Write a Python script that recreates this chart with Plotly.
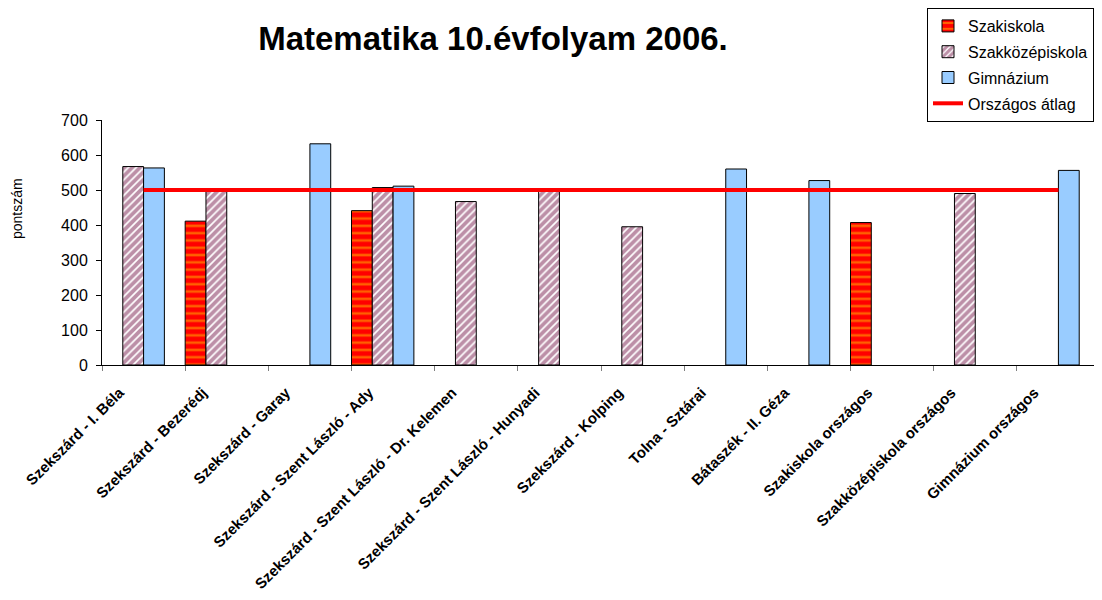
import plotly.graph_objects as go

categories = [
    "Szekszárd - I. Béla",
    "Szekszárd - Bezerédj",
    "Szekszárd - Garay",
    "Szekszárd - Szent László - Ady",
    "Szekszárd - Szent László - Dr. Kelemen",
    "Szekszárd - Szent László - Hunyadi",
    "Szekszárd - Kolping",
    "Tolna - Sztárai",
    "Bátaszék - II. Géza",
    "Szakiskola országos",
    "Szakközépiskola országos",
    "Gimnázium országos",
]
szakiskola = [None, 411, None, 441, None, None, None, None, None, 407, None, None]
szakkozep = [567, 496, None, 507, 467, 497, 395, None, None, None, 490, None]
gimnazium = [563, None, 632, 511, None, None, None, 560, 527, None, None, 556]
orszagos = [500] * len(categories)

FONT = "Liberation Sans, Arial, sans-serif"
W, H = 1094, 592  # page body has an 8px margin

fig = go.Figure()
fig.add_trace(go.Bar(
    x=categories, y=szakiskola, name="Szakiskola",
    width=0.25, offset=-0.5,
    marker=dict(color="#FF0000", line=dict(color="black", width=1),
                pattern=dict(shape="-", fgcolor="#FFC000", bgcolor="#FF0000",
                             size=7.3, solidity=0.35, fillmode="overlay")),
    legendgroup="a",
))
fig.add_trace(go.Bar(
    x=categories, y=szakkozep, name="Szakközépiskola",
    width=0.25, offset=-0.25,
    marker=dict(color="white", line=dict(color="black", width=1),
                pattern=dict(shape="/", fgcolor="#7A1F50", bgcolor="white",
                             size=5.5, solidity=0.7, fillmode="overlay")),
    legendgroup="b",
))
fig.add_trace(go.Bar(
    x=categories, y=gimnazium, name="Gimnázium",
    width=0.25, offset=0,
    marker=dict(color="#99CCFF", line=dict(color="black", width=1)),
    legendgroup="c",
))
fig.add_trace(go.Scatter(
    x=categories, y=orszagos, name="Országos átlag",
    mode="lines", line=dict(color="#FF0000", width=4),
    legendgroup="d",
))

fig.update_layout(
    width=W, height=H,
    paper_bgcolor="white", plot_bgcolor="white",
    barmode="overlay",
    margin=dict(l=94, r=2, t=112, b=235, autoexpand=False),
    font=dict(family=FONT, color="black"),
    title=dict(text="<b>Matematika 10.évfolyam 2006.</b>",
               font=dict(size=33, color="black", family=FONT),
               x=485 / W, xanchor="center", xref="container",
               y=1 - 30 / H, yanchor="middle", yref="container"),
    legend=dict(x=919 / W, y=1.0, xanchor="left", yanchor="top",
                xref="container", yref="container",
                bordercolor="black", borderwidth=1, bgcolor="white",
                font=dict(size=16, family=FONT), traceorder="grouped",
                tracegroupgap=2, itemwidth=30),
    showlegend=True,
    annotations=[dict(text="pontszám", textangle=-90, showarrow=False,
                      xref="paper", yref="paper", x=(17 - 102) / 998,
                      y=(365 - 209) / 245,
                      xanchor="center", yanchor="middle",
                      font=dict(size=14, color="black", family=FONT))],
)
fig.update_xaxes(
    showline=True, linecolor="black", linewidth=1,
    ticks="outside", tickson="boundaries", ticklen=5, tickcolor="#808080",
    tickangle=-45, tickfont=dict(size=15, family=FONT),
    showgrid=False, automargin=False,
    ticklabelshift=-24, ticklabelstandoff=12,
    tickprefix="<b>", ticksuffix="</b>",
)
fig.update_yaxes(
    range=[0, 700], dtick=100, showline=True, linecolor="black", linewidth=1,
    ticks="outside", ticklen=5, tickcolor="black", showgrid=False,
    zeroline=False, tickfont=dict(size=16, family=FONT), automargin=False,
    ticklabelstandoff=5,
)

fig.write_html("out.html")
